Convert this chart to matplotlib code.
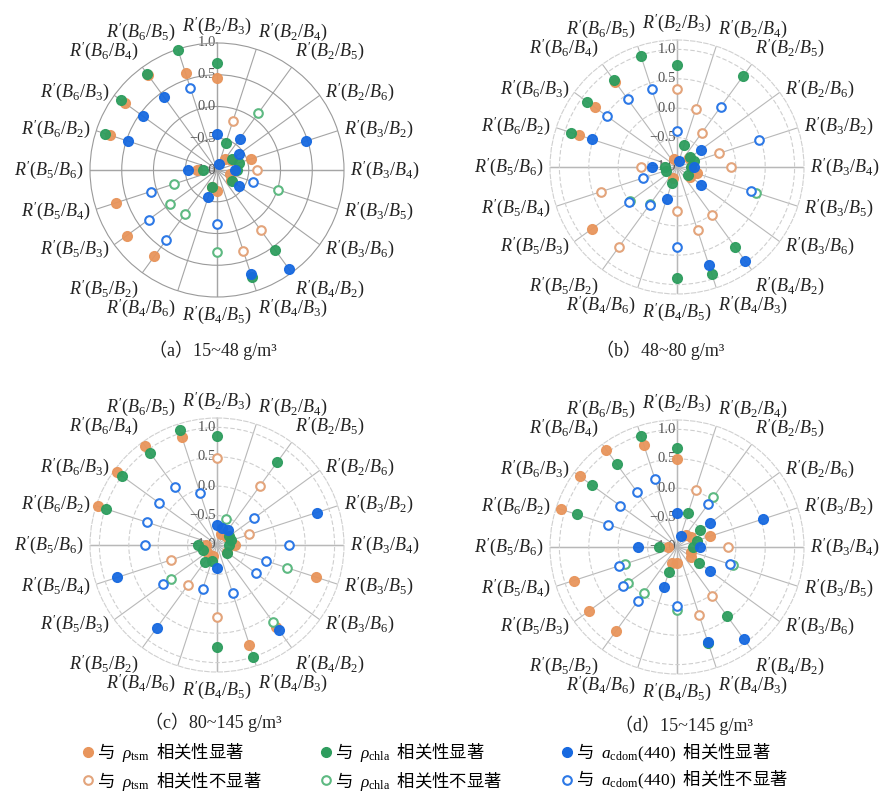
import numpy as np
import matplotlib
matplotlib.use("Agg")
import matplotlib.pyplot as plt
from matplotlib.lines import Line2D
from matplotlib.transforms import offset_copy

plt.rcParams['mathtext.fontset'] = 'custom'
plt.rcParams['mathtext.rm'] = 'Liberation Serif'
plt.rcParams['mathtext.it'] = 'Liberation Serif:italic'
plt.rcParams['mathtext.bf'] = 'Liberation Serif:bold'

# band ratio pairs, clockwise from the top
pairs = [(2, 3), (2, 4), (2, 5), (2, 6), (3, 2), (3, 4), (3, 5), (3, 6), (4, 2), (4, 3),
         (4, 5), (4, 6), (5, 2), (5, 3), (5, 4), (5, 6), (6, 2), (6, 3), (6, 4), (6, 5)]
ratio_labels = [r"$R'(B_{%d}/B_{%d})$" % p for p in pairs]

# (a) 15~48 g/m3
tsm_a = [0.45, -0.19, -0.78, -0.72, -0.43, -0.37, -0.78, -0.72, 0.17, 0.34,
         -0.67, -0.72, 0.68, 0.76, 0.68, -0.68, 0.77, 0.80, 0.85, 0.60]
chla_a = [0.68, -0.55, 0.11, -0.70, -0.63, -0.68, 0.01, -0.71, 0.55, 0.78,
          0.29, -0.72, -0.15, -0.08, -0.29, -0.78, 0.85, 0.87, 0.87, 0.99]
cdom_a = [-0.44, -0.90, -0.39, -0.57, 0.47, -0.72, -0.40, -0.57, 0.93, 0.72,
          -0.15, -0.55, 0.36, 0.33, 0.10, -0.55, 0.48, 0.45, 0.42, 0.36]
tsm_sig_a = [1, 0, 1, 1, 1, 0, 1, 1, 0, 0, 1, 1, 1, 1, 1, 1, 1, 1, 1, 1]
chla_sig_a = [1, 1, 0, 1, 1, 1, 0, 1, 1, 1, 0, 1, 0, 0, 0, 1, 1, 1, 1, 1]
cdom_sig_a = [1, 1, 1, 1, 1, 1, 0, 1, 1, 1, 0, 1, 0, 0, 0, 1, 1, 1, 1, 0]

# (b) 48~80 g/m3
tsm_b = [0.32, 0.03, -0.29, -0.75, -0.25, -0.08, -0.65, -0.72, 0.01, 0.13,
         -0.26, -0.80, 0.68, 0.78, 0.36, -0.39, 0.75, 0.73, 0.79, -0.85]
chla_b = [0.73, -0.61, 0.91, -0.72, -0.69, -0.76, 0.42, -0.76, 0.69, 0.91,
          0.89, -0.72, -0.23, -0.02, -0.80, -0.80, 0.89, 0.89, 0.82, 0.99]
cdom_b = [-0.39, -0.90, 0.26, -0.50, 0.47, -0.71, 0.32, -0.49, 0.97, 0.76,
          0.36, -0.43, -0.21, 0.01, -0.40, -0.57, 0.52, 0.47, 0.43, 0.40]
tsm_sig_b = [0, 0, 0, 1, 0, 0, 1, 1, 0, 0, 0, 1, 0, 1, 0, 0, 1, 1, 1, 1]
chla_sig_b = [1, 1, 1, 1, 1, 1, 0, 1, 1, 1, 1, 1, 0, 0, 1, 1, 1, 1, 1, 1]
cdom_sig_b = [0, 1, 0, 1, 0, 1, 0, 1, 1, 1, 0, 1, 0, 0, 0, 1, 1, 0, 0, 0]

# (c) 80~145 g/m3
tsm_c = [0.48, -0.80, 0.24, -0.78, -0.42, -0.70, 0.77, -0.80, 0.72, 0.78,
         0.23, -0.80, -0.16, -0.80, -0.17, -0.82, 1.12, 1.10, 1.08, 0.94]
chla_c = [0.85, -0.53, 0.75, -0.75, -0.75, -0.80, 0.25, -0.78, 0.61, 1.00,
          0.73, -0.72, -0.65, -0.03, -0.75, -0.67, 0.98, 0.99, 0.94, 1.06]
cdom_c = [-0.66, -0.70, -0.68, -0.22, 0.78, 0.22, -0.13, -0.18, 0.78, -0.14,
          -0.61, -0.22, 0.75, 0.13, 0.78, 0.23, 0.26, 0.22, 0.21, -0.07]
tsm_sig_c = [0, 1, 0, 1, 0, 1, 1, 1, 1, 1, 0, 1, 0, 1, 0, 1, 1, 1, 1, 1]
chla_sig_c = [1, 0, 1, 1, 1, 1, 0, 1, 0, 1, 1, 1, 1, 0, 1, 1, 1, 1, 1, 1]
cdom_sig_c = [1, 1, 1, 0, 1, 0, 0, 0, 1, 0, 1, 0, 1, 0, 1, 0, 0, 0, 0, 0]

# (d) 15~145 g/m3
tsm_d = [0.49, 0.02, -0.75, -0.70, -0.41, -0.14, -0.75, -0.70, 0.02, 0.21,
         -0.72, -0.72, 0.77, 0.84, 0.85, -0.85, 1.07, 1.04, 1.04, 0.83]
chla_d = [0.69, -0.40, 0.05, -0.51, -0.65, -0.72, 0.00, -0.54, 0.45, 0.71,
          0.07, -0.55, -0.04, 0.04, -0.07, -0.69, 0.79, 0.78, 0.74, 0.98]
cdom_d = [-0.43, -0.80, -0.10, -0.31, 0.53, -0.61, -0.06, -0.30, 0.94, 0.69,
          0.01, -0.28, 0.13, 0.13, 0.03, -0.33, 0.23, 0.19, 0.15, 0.21]
tsm_sig_d = [1, 0, 1, 1, 1, 0, 1, 1, 0, 0, 1, 1, 1, 1, 1, 1, 1, 1, 1, 1]
chla_sig_d = [1, 1, 0, 1, 1, 1, 0, 1, 1, 1, 0, 1, 0, 0, 0, 1, 1, 1, 1, 1]
cdom_sig_d = [1, 1, 0, 1, 1, 1, 0, 1, 1, 1, 0, 1, 0, 0, 0, 1, 0, 0, 0, 0]

captions = ["（a）15~48 g/m³", "（b）48~80 g/m³", "（c）80~145 g/m³", "（d）15~145 g/m³"]

colors = {'tsm': '#E8955C', 'chla': '#2E9D5E', 'cdom': '#1769E0'}
hollow = {'tsm': '#E3A47B', 'chla': '#5DB981', 'cdom': '#2C78E6'}

W, H = 885, 797
fig = plt.figure(figsize=(W / 100, H / 100), dpi=100)

# centre (px), outer radius (px), radial max, caption position (px)
layout = [
    ((217, 170), 127, 1.0, (213, 350)),
    ((677, 167), 127, 1.16, (660, 350)),
    ((217, 545), 127, 1.16, (213, 722)),
    ((677, 547), 127, 1.16, (684, 725)),
]
panels = [
    (tsm_a, chla_a, cdom_a, tsm_sig_a, chla_sig_a, cdom_sig_a),
    (tsm_b, chla_b, cdom_b, tsm_sig_b, chla_sig_b, cdom_sig_b),
    (tsm_c, chla_c, cdom_c, tsm_sig_c, chla_sig_c, cdom_sig_c),
    (tsm_d, chla_d, cdom_d, tsm_sig_d, chla_sig_d, cdom_sig_d),
]

theta = np.deg2rad(np.arange(len(pairs)) * 360.0 / len(pairs))

for i, ((cx, cy), rad, rmax, (tx, ty)) in enumerate(layout):
    rect = [(cx - rad) / W, (H - cy - rad) / H, 2 * rad / W, 2 * rad / H]
    ax = fig.add_axes(rect, projection='polar')
    ax.set_theta_zero_location('N')
    ax.set_theta_direction(-1)
    ax.set_ylim(-1, rmax)
    ax.set_xticks(theta)
    ax.set_xticklabels([])
    ax.set_yticks([-0.5, 0.0, 0.5, 1.0] if rmax > 1.05 else [-0.5, 0.0, 0.5])
    ax.set_yticklabels([])
    ax.tick_params(length=0)
    if i == 0:
        ax.yaxis.grid(True, color='#9a9a9a', lw=0.8, ls='-')
        ax.xaxis.grid(True, color='#a5a5a5', lw=0.8)
        ax.spines['polar'].set_color('#9a9a9a')
    else:
        ax.yaxis.grid(True, color='#cfcfcf', lw=0.8, ls=(0, (4, 2)))
        ax.xaxis.grid(True, color='#b8b8b8', lw=0.8)
        ax.spines['polar'].set_color('#d0d0d0')
        ax.spines['polar'].set_linestyle((0, (4, 2)))
    ax.spines['polar'].set_linewidth(0.8)
    ax.set_facecolor('none')
    # darker cross through the centre
    for t in np.deg2rad([0, 90, 180, 270]):
        ax.plot([t, t], [-1, rmax], color='#8c8c8c', lw=0.9, zorder=1)

    # radial tick labels along the top spoke
    tr = offset_copy(ax.transData, fig=fig, x=-1, y=0, units='dots')
    for v in [-1.0, -0.5, 0.0, 0.5, 1.0]:
        ax.text(0, v, ("%.1f" % v).replace('-', '−'), transform=tr, ha='right', va='center',
                fontsize=10.5, color='#555555', family='Liberation Serif', zorder=2)

    # ratio labels around the rim
    r_lab = -1 + (rmax + 1) * 1.05
    for t, lab in zip(theta, ratio_labels):
        s, c = np.sin(t), np.cos(t)
        ha = 'center' if abs(s) < 0.2 else ('left' if s > 0 else 'right')
        va = 'center' if abs(c) < 0.65 else ('bottom' if c > 0 else 'top')
        ax.text(t, r_lab, lab, ha=ha, va=va, fontsize=13, color='#222222', clip_on=False)

    tsm, chla, cdom, s_tsm, s_chla, s_cdom = panels[i]
    for key, vals, sig in [('tsm', tsm, s_tsm), ('chla', chla, s_chla), ('cdom', cdom, s_cdom)]:
        vals = np.asarray(vals)
        sig = np.asarray(sig).astype(bool)
        ax.plot(theta[sig], vals[sig], 'o', ms=7, color=colors[key], mec=colors[key],
                alpha=0.95, zorder=4, clip_on=False)
        ax.plot(theta[~sig], vals[~sig], 'o', ms=6.2, mfc='white', mec=hollow[key],
                mew=1.5, zorder=4, clip_on=False)

    fig.text(tx / W, 1 - ty / H, captions[i], ha='center', va='center', fontsize=13,
             family=['Liberation Serif', 'Noto Sans CJK SC'], color='#222222')

# legend for significant / not significant markers
handles, labels = [], []
legend_names = [r"$\rho_{\mathrm{tsm}}$", r"$\rho_{\mathrm{chla}}$", r"$a_{\mathrm{cdom}}(440)$"]
for key, name in zip(['tsm', 'chla', 'cdom'], legend_names):
    handles.append(Line2D([], [], marker='o', ls='none', ms=7, color=colors[key]))
    labels.append("与  " + name + "  相关性显著")
    handles.append(Line2D([], [], marker='o', ls='none', ms=6.2, mfc='white',
                          mec=hollow[key], mew=1.5))
    labels.append("与  " + name + "  相关性不显著")
fig.legend(handles, labels, ncol=3, loc='upper left', bbox_to_anchor=(79 / W, 1 - 741 / H),
           frameon=False, prop={'family': 'Noto Sans CJK SC', 'size': 12.5},
           handletextpad=0.05, handlelength=1.0, columnspacing=3.2, labelspacing=0.32,
           borderpad=0, borderaxespad=0)

fig.savefig("out.png", dpi=100)
